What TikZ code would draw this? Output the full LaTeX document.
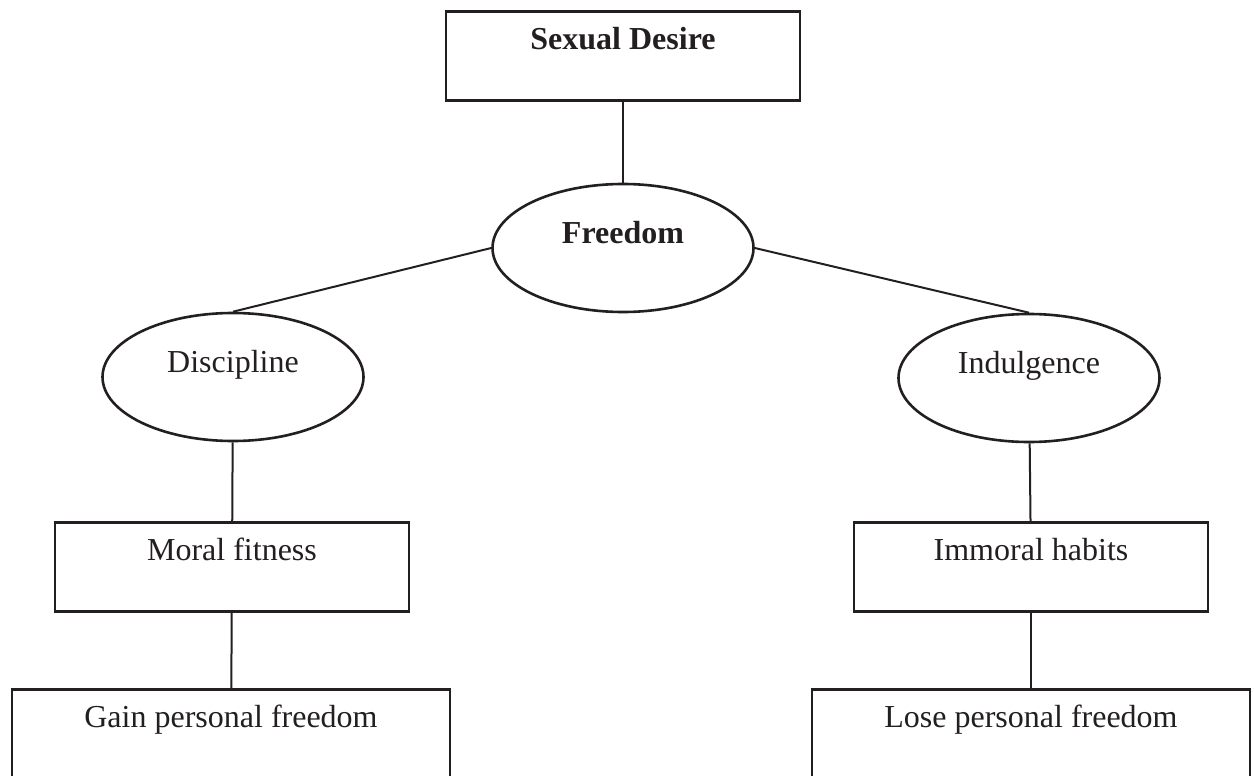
\documentclass[tikz,border=0pt]{standalone}
\usepackage{fontspec}
\setmainfont{Liberation Serif}
\usetikzlibrary{shapes,shapes.geometric,positioning}
\definecolor{ink}{RGB}{35,31,32}

\begin{document}
\begin{tikzpicture}
	[x=0.5pt,y=-0.5pt,-,every node/.style={draw=ink,text=ink,line width=1.3pt,inner sep=0pt,
	font=\fontsize{16}{19}\selectfont},
	every edge/.style={draw=ink,line width=1pt},
	box/.style={shape=rectangle,anchor=north,minimum width=177pt,text height=19pt,text depth=25.5pt},
	widebox/.style={box,minimum width=219pt,text depth=32pt},
	oval/.style={shape=ellipse,minimum width=130.5pt,minimum height=64pt,text height=8pt,text depth=13pt}]
	\clip (0,0) rectangle (1254,776);

	\node[box,font=\fontsize{16}{19}\selectfont\bfseries] (sd) at (623,10) {Sexual Desire};
	\node[oval,font=\fontsize{16}{19}\selectfont\bfseries] (free) at (623,248) {Freedom};
	\node[oval] (disc) at (233,377) {Discipline};
	\node[oval] (ind) at (1029,378) {Indulgence};
	\node[box] (moral) at (232,521) {Moral fitness};
	\node[box] (immoral) at (1031,521) {Immoral habits};
	\node[widebox] (gain) at (231,688) {Gain personal freedom};
	\node[widebox] (lose) at (1031,688) {Lose personal freedom};

	\path
	\foreach \startNode/\endNode in {sd/free,disc/moral,moral/gain,ind/immoral,immoral/lose}{
		(\startNode) edge (\endNode)
	};
	\path (free.west) edge (disc.north)
		(free.east) edge (ind.north);
\end{tikzpicture}
\end{document}
